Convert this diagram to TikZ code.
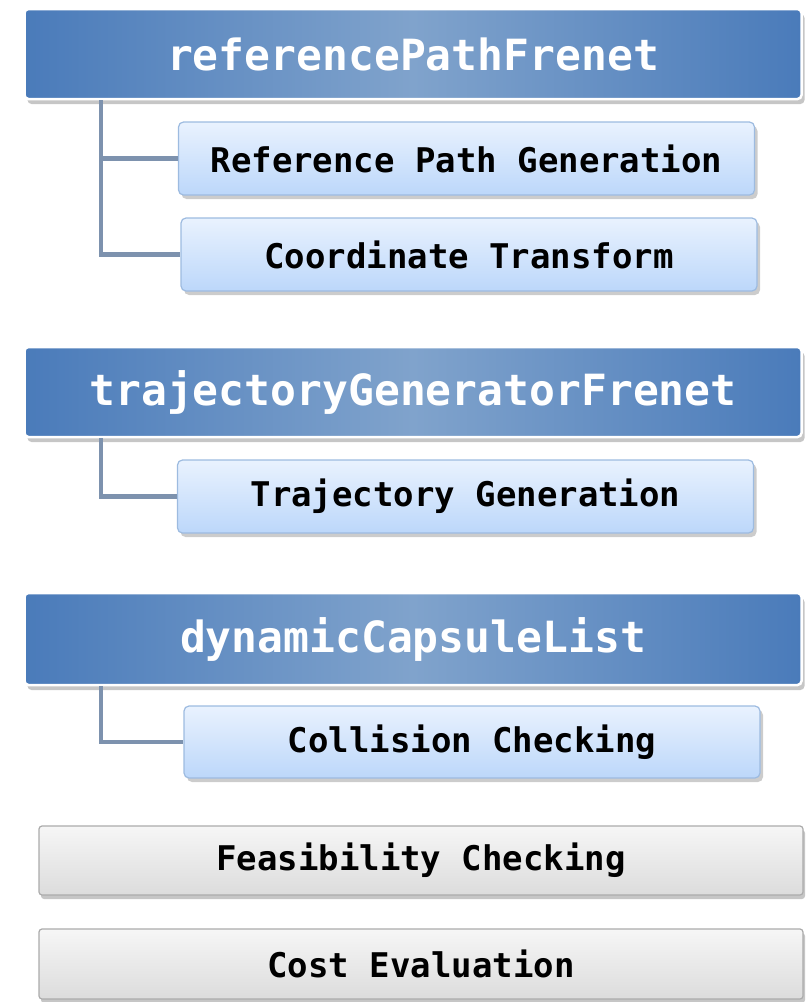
\documentclass[tikz,border=0pt]{standalone}
\usepackage{fontspec}
\setmonofont{DejaVu Sans Mono}
\usetikzlibrary{shadows}

\definecolor{headedge}{HTML}{4A7BBA}
\definecolor{headmid}{HTML}{80A3CC}
\definecolor{subtop}{HTML}{E9F2FE}
\definecolor{subbot}{HTML}{BCD7FA}
\definecolor{subline}{HTML}{9DBBE0}
\definecolor{linkcol}{HTML}{7D92AE}
\definecolor{graytop}{HTML}{F6F6F6}
\definecolor{graybot}{HTML}{DCDCDC}
\definecolor{grayline}{HTML}{ABABAB}

\tikzset{
  headbox/.style={draw=white, line width=2.5pt, rounded corners=4pt,
    left color=headedge, right color=headedge, middle color=headmid,
    minimum width=777pt, minimum height=90pt, text=white,
    font=\ttfamily\bfseries\fontsize{43}{50}\selectfont,
    drop shadow={shadow xshift=3pt, shadow yshift=-5pt, opacity=0.45}},
  subbox/.style={draw=subline, line width=1.2pt, rounded corners=5pt,
    top color=subtop, bottom color=subbot,
    minimum width=576pt, minimum height=73pt,
    font=\ttfamily\bfseries\fontsize{34}{40}\selectfont,
    drop shadow={shadow xshift=3pt, shadow yshift=-4pt, opacity=0.4}},
  graybox/.style={draw=grayline, line width=1.2pt, rounded corners=3pt,
    top color=graytop, bottom color=graybot,
    minimum width=764pt, minimum height=69pt,
    font=\ttfamily\bfseries\fontsize{34}{40}\selectfont,
    drop shadow={shadow xshift=2pt, shadow yshift=-4pt, opacity=0.45}},
  link/.style={draw=linkcol, line width=4.5pt}
}

\begin{document}
\begin{tikzpicture}[x=1pt,y=-1pt]
  \useasboundingbox (0,0) rectangle (808,1002);

  % first group
  \node[headbox] (refpath) at (413,54) {referencePathFrenet};
  \node[subbox] (refgen) at (466.5,158.5) {Reference Path Generation};
  \node[subbox] (coordtf) at (469,254.5) {Coordinate Transform};
  \coordinate (reftop) at (101,100);
  \draw[link] (reftop) |- (refgen.west);
  \draw[link] (reftop) |- (coordtf.west);

  % second group
  \node[headbox] (trajgen) at (413,392) {trajectoryGeneratorFrenet};
  \node[subbox] (trajsub) at (465.5,496.5) {Trajectory Generation};
  \coordinate (trajtop) at (101,438);
  \draw[link] (trajtop) |- (trajsub.west);

  % third group
  \node[headbox, minimum height=92pt] (capsule) at (413,639) {dynamicCapsuleList};
  \node[subbox, minimum height=72pt] (collide) at (472,742) {Collision Checking};
  \coordinate (captop) at (101,686);
  \draw[link] (captop) |- (collide.west);

  % plain steps
  \node[graybox] (feasible) at (421,860.5) {Feasibility Checking};
  \node[graybox, minimum height=70pt] (costeval) at (421,964) {Cost Evaluation};
\end{tikzpicture}
\end{document}
